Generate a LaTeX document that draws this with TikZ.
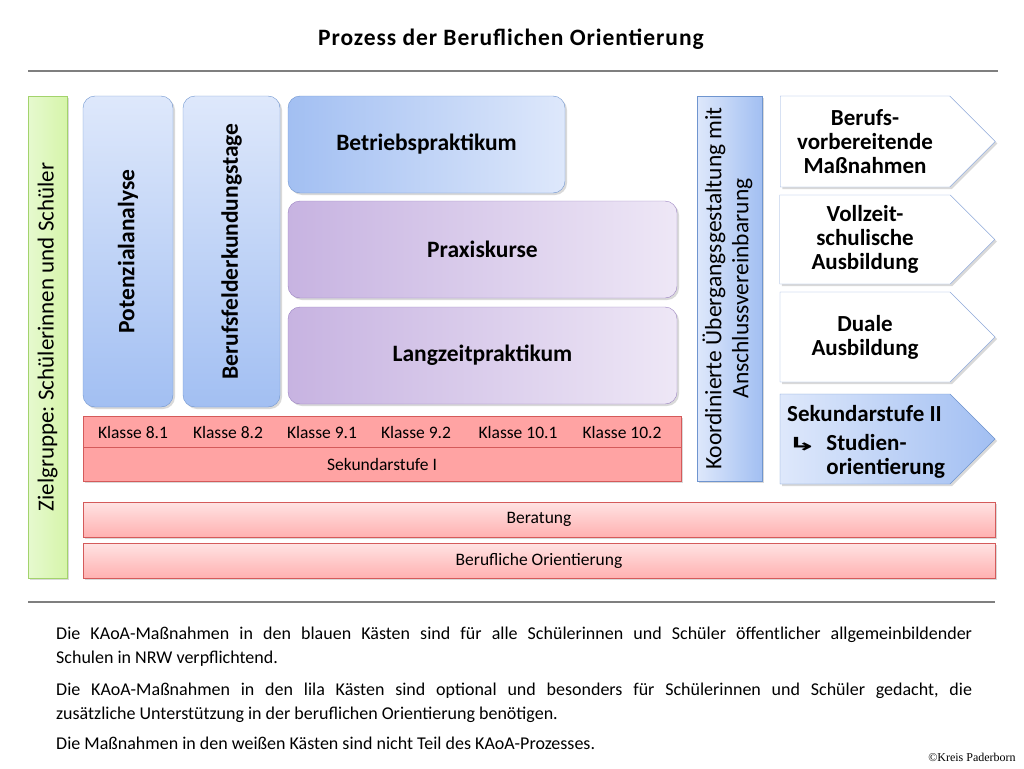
\documentclass[tikz,border=0pt]{standalone}
\usepackage{fontspec}
\setmainfont{Carlito}
\newfontfamily\titelfont[LetterSpace=4]{Carlito}
\newfontfamily\symbolfont{DejaVu Sans}
\newfontfamily\copyrightfont{Liberation Serif}
\usepackage{tikz}
\usetikzlibrary{shapes.symbols,shadows}

\definecolor{blauhell}{HTML}{DEE8FB}
\definecolor{blaudunkel}{HTML}{A2BFF2}
\definecolor{blaurand}{HTML}{6F95CF}
\definecolor{lilahell}{HTML}{EEE7F6}
\definecolor{liladunkel}{HTML}{C7B3E1}
\definecolor{lilarand}{HTML}{9A82C1}
\definecolor{rot}{HTML}{FFA3A3}
\definecolor{rothell}{HTML}{FFE3E3}
\definecolor{rotrand}{HTML}{D45A5A}
\definecolor{gruenhell}{HTML}{E6F9CF}
\definecolor{gruen}{HTML}{D6F5AA}
\definecolor{gruenrand}{HTML}{A3D36C}
\definecolor{pfeilrand}{HTML}{8FAADC}
\definecolor{linie}{HTML}{7F7F7F}

\tikzset{
  schatten/.style={drop shadow={shadow xshift=2pt,shadow yshift=-2pt,opacity=0.15,fill=black}},
  kasten/.style={draw, inner sep=0pt, schatten},
  rundkasten/.style={kasten, rounded corners=12pt, font=\fontsize{23.5}{26}\selectfont\bfseries},
  blaukasten/.style={rundkasten, draw=blaurand, top color=blauhell, bottom color=blaudunkel},
  blauquer/.style={rundkasten, draw=blaurand, left color=blaudunkel, right color=blauhell},
  lilakasten/.style={rundkasten, draw=lilarand, left color=liladunkel, right color=lilahell},
  rotkasten/.style={kasten, draw=rotrand, fill=rot, font=\fontsize{17.5}{20}\selectfont},
  balken/.style={kasten, draw=rotrand, top color=rothell, bottom color=rot!85, font=\fontsize{17.5}{20}\selectfont},
  pfeil/.style={kasten, signal, signal to=east, signal pointer angle=90, draw=pfeilrand,
    minimum width=215pt, align=center, font=\fontsize{23}{24}\selectfont\bfseries},
  klasse/.style={font=\fontsize{17.5}{20}\selectfont},
  erklaerung/.style={anchor=north west, inner sep=0pt, text width=916pt, align=justify,
    font=\fontsize{18}{24}\selectfont}
}

\begin{document}
\frenchspacing
\begin{tikzpicture}[x=1pt,y=-1pt]
  \useasboundingbox (0,0) rectangle (1024,768);

  \node[font=\titelfont\fontsize{23.5}{26}\selectfont\bfseries] (titel) at (511,39) {Prozess der Beruflichen Orientierung};
  \draw[linie, line width=1.2pt] (28,71) -- (998,71);

  % Zielgruppe
  \node[kasten, draw=gruenrand, left color=gruenhell, right color=gruen, minimum width=39pt, minimum height=482pt,
    font=\fontsize{23}{27}\selectfont] (zielgruppe) at (47.5,337) {\rotatebox{90}{Zielgruppe: Schülerinnen und Schüler}};

  % blaue und lila Kaesten
  \node[blaukasten, minimum width=90pt, minimum height=311pt] (potenzial) at (128,251.5) {\rotatebox{90}{Potenzialanalyse}};
  \node[blaukasten, minimum width=97pt, minimum height=311pt] (bfe) at (231.5,251.5) {\rotatebox{90}{Berufsfelderkundungstage}};
  \node[blauquer, minimum width=277pt, minimum height=97pt] (betrieb) at (426.5,144.5) {Betriebspraktikum};
  \node[lilakasten, minimum width=389pt, minimum height=97pt] (praxis) at (482.5,249.5) {Praxiskurse};
  \node[lilakasten, minimum width=389pt, minimum height=97pt] (langzeit) at (482.5,355.5) {Langzeitpraktikum};

  % Klassen und Sekundarstufe I
  \node[rotkasten, minimum width=598pt, minimum height=31pt] (klassen) at (382,431.5) {};
  \node[klasse] (k81) at (133,432) {Klasse 8.1};
  \node[klasse] (k82) at (228,432) {Klasse 8.2};
  \node[klasse] (k91) at (322,432) {Klasse 9.1};
  \node[klasse] (k92) at (416,432) {Klasse 9.2};
  \node[klasse] (k101) at (518,432) {Klasse 10.1};
  \node[klasse] (k102) at (622,432) {Klasse 10.2};
  \node[rotkasten, minimum width=598pt, minimum height=34pt] (sek1) at (382,464) {Sekundarstufe I};

  % Uebergang
  \node[kasten, draw=blaurand, left color=blauhell, right color=blaudunkel, minimum width=65pt, minimum height=385pt,
    font=\fontsize{23.5}{27}\selectfont] (koord) at (729.5,288.5)
    {\rotatebox{90}{\begin{tabular}{@{}c@{}}Koordinierte Übergangsgestaltung mit\\Anschlussvereinbarung\end{tabular}}};

  % Anschluesse
  \node[pfeil, fill=white, minimum height=91pt] (berufsvorb) at (865,141.5) {Berufs-\\vorbereitende\\Maßnahmen};
  \node[pfeil, fill=white, minimum height=89pt] (vollzeit) at (865,239.5) {Vollzeit-\\schulische\\Ausbildung};
  \node[pfeil, fill=white, minimum height=90pt] (dual) at (865,337) {Duale\\Ausbildung};
  \node[pfeil, draw=blaurand, left color=blauhell, right color=blaudunkel, minimum height=90pt] (sek2) at (865,439) {};
  \node[anchor=west, inner sep=0pt, font=\fontsize{23}{24}\selectfont\bfseries] (sek2text) at (787,443)
    {\begin{tabular}{@{}l@{\hspace{9pt}}l@{}}
      \multicolumn{2}{@{}l@{}}{Sekundarstufe II}\\[5pt]
      {\symbolfont\bfseries\fontsize{24}{24}\selectfont\scalebox{1.5}[0.75]{↳}} & Studien-\\
      & orientierung
    \end{tabular}};

  % Beratung und Berufliche Orientierung
  \node[balken, minimum width=912pt, minimum height=35pt] (beratung) at (539,519.5) {Beratung};
  \node[balken, minimum width=912pt, minimum height=35pt] (orientierung) at (539,560.5) {Berufliche Orientierung};

  \draw[linie, line width=1.2pt] (28,602) -- (995,602);

  % Erlaeuterungen
  \node[erklaerung] (text1) at (56,627) {Die KAoA-Maßnahmen in den blauen Kästen sind für alle Schülerinnen und Schüler öffentlicher allgemeinbildender\linebreak Schulen in NRW verpflichtend.};
  \node[erklaerung] (text2) at (56,683) {Die KAoA-Maßnahmen in den lila Kästen sind optional und besonders für Schülerinnen und Schüler gedacht, die\linebreak zusätzliche Unterstützung in der beruflichen Orientierung benötigen.};
  \node[erklaerung] (text3) at (56,737) {Die Maßnahmen in den weißen Kästen sind nicht Teil des KAoA-Prozesses.};
  \node[font=\copyrightfont\fontsize{12}{13}\selectfont] (copyright) at (972,757) {©Kreis Paderborn};
\end{tikzpicture}
\end{document}
